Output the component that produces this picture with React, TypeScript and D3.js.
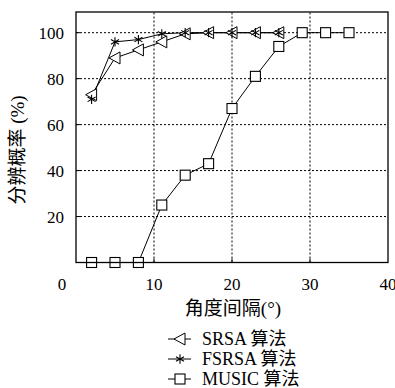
import React from 'react';
import * as d3 from 'd3';

// angle separation (deg) and resolution probability (%)
const angles = [2, 5, 8, 11, 14, 17, 20, 23, 26, 29, 32, 35];
const srsa = [73, 89, 92.5, 96, 99.5, 100, 100, 100, 100];
const fsrsa = [71, 96, 97, 99.5, 100, 100, 100, 100, 100];
const music = [0, 0, 0, 25, 38, 43, 67, 81, 94, 100, 100, 100];
const xTicks = [0, 10, 20, 30, 40];
const yTicks = [20, 40, 60, 80, 100];
const seriesNames = ['SRSA 算法', 'FSRSA 算法', 'MUSIC 算法'];

const W = 395;
const H = 388;
const font = "'Liberation Serif', 'Noto Sans CJK SC', serif";

function Marker({ kind, x, y }: { kind: number; x: number; y: number }) {
  if (kind === 0) {
    // left-pointing triangle
    const p = `${x - 6},${y} ${x + 5},${y - 6} ${x + 5},${y + 6}`;
    return <polygon points={p} fill="#fff" stroke="#000" strokeWidth={1} />;
  }
  if (kind === 1) {
    const path = d3.symbol(d3.symbolAsterisk, 60)()!;
    return <path d={path} transform={`translate(${x},${y})`} fill="none" stroke="#000" strokeWidth={1.1} />;
  }
  return <rect x={x - 5} y={y - 5} width={10} height={10} fill="#fff" stroke="#000" strokeWidth={1.1} />;
}

export default function App() {
  const x = d3.scaleLinear().domain([0, 40]).range([76, 388]);
  const y = d3.scaleLinear().domain([0, 109]).range([262.5, 12]);
  const line = d3.line<[number, number]>().x((d) => x(d[0])).y((d) => y(d[1]));

  const series = [srsa, fsrsa, music].map((vals) =>
    vals.map((v, i) => [angles[i], v] as [number, number])
  );

  const [x0, x1] = x.range();
  const [y0, y1] = y.range();

  return (
    <svg width={W} height={H} style={{ position: 'absolute', left: 0, top: 0, background: '#fff', fontFamily: font }}>
      {/* grid */}
      {xTicks.slice(1, -1).map((t) => (
        <line key={'gx' + t} x1={x(t)} x2={x(t)} y1={y0} y2={y1} stroke="#000" strokeWidth={1} strokeDasharray="2,2" />
      ))}
      {yTicks.map((t) => (
        <line key={'gy' + t} x1={x0} x2={x1} y1={y(t)} y2={y(t)} stroke="#000" strokeWidth={1} strokeDasharray="2,2" />
      ))}

      {/* series lines */}
      {series.map((pts, k) => (
        <path key={'l' + k} d={line(pts)!} fill="none" stroke="#000" strokeWidth={1} />
      ))}
      {series.map((pts, k) =>
        pts.map((p, i) => <Marker key={`m${k}-${i}`} kind={k} x={x(p[0])} y={y(p[1])} />)
      )}

      {/* frame */}
      <rect x={x0} y={y1} width={x1 - x0} height={y0 - y1} fill="none" stroke="#000" strokeWidth={1.3} />
      {xTicks.slice(1, -1).map((t) => (
        <line key={'tx' + t} x1={x(t)} x2={x(t)} y1={y0} y2={y0 - 4} stroke="#000" />
      ))}
      {yTicks.map((t) => (
        <line key={'ty' + t} x1={x0} x2={x0 + 4} y1={y(t)} y2={y(t)} stroke="#000" />
      ))}

      {/* tick labels */}
      {xTicks.map((t) => (
        <text key={'lx' + t} x={t === 0 ? x(t) - 14 : x(t)} y={290} textAnchor="middle" fontSize={17}>
          {t}
        </text>
      ))}
      {yTicks.map((t) => (
        <text key={'ly' + t} x={64} y={y(t) + 6} textAnchor="end" fontSize={17}>
          {t}
        </text>
      ))}

      {/* axis titles */}
      <text x={233} y={315} textAnchor="middle" fontSize={19}>
        角度间隔(°)
      </text>
      <text transform="translate(24,150) rotate(-90)" textAnchor="middle" fontSize={19}>
        分辨概率 (%)
      </text>

      {/* legend */}
      {seriesNames.map((name, k) => {
        const ly = 339 + k * 20;
        return (
          <g key={'lg' + k}>
            <line x1={168} x2={191} y1={ly} y2={ly} stroke="#000" strokeWidth={1} />
            <Marker kind={k} x={180} y={ly} />
            <text x={202} y={ly + 6} fontSize={18}>
              {name}
            </text>
          </g>
        );
      })}
    </svg>
  );
}
